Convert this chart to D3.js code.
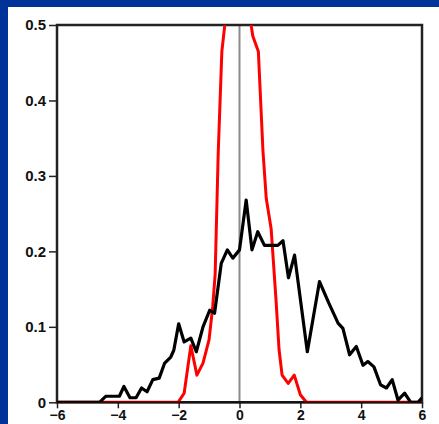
<!DOCTYPE html>
<html><head><meta charset="utf-8">
<script src="https://cdn.jsdelivr.net/npm/d3@7"></script>
<style>html,body{margin:0;padding:0;background:#003399;}svg{display:block;}</style>
</head><body>
<script>
// Data
const blackX = [-6,-4.6,-4.4,-3.95,-3.8,-3.6,-3.4,-3.22,-3.04,-2.85,-2.64,-2.46,-2.26,-2.16,-2.0,-1.82,-1.6,-1.42,-1.2,-0.98,-0.82,-0.6,-0.4,-0.22,0,0.22,0.41,0.6,0.82,1.04,1.26,1.43,1.61,1.81,2.23,2.63,2.93,3.24,3.40,3.62,3.84,4.06,4.22,4.42,4.64,4.83,5.02,5.21,5.43,5.63,5.87,6];
const blackY = [0,0,0.008,0.008,0.021,0.006,0.006,0.019,0.014,0.030,0.032,0.052,0.060,0.069,0.104,0.080,0.085,0.067,0.100,0.122,0.118,0.184,0.202,0.191,0.202,0.268,0.202,0.226,0.208,0.208,0.208,0.214,0.165,0.195,0.067,0.160,0.132,0.105,0.098,0.063,0.074,0.049,0.054,0.047,0.023,0.019,0.030,0.003,0.012,0.0,0.0,0.006];
const redX = [-6,-2.02,-1.82,-1.6,-1.4,-1.2,-1.0,-0.88,-0.8,-0.7,-0.58,-0.4,-0.2,0,0.2,0.36,0.44,0.62,0.77,0.88,1.04,1.2,1.3,1.4,1.6,1.8,2.0,2.2,6];
const redY = [0,0,0.012,0.075,0.036,0.052,0.083,0.127,0.17,0.33,0.465,0.53,0.8,0.9,0.8,0.505,0.485,0.465,0.334,0.27,0.23,0.136,0.07,0.036,0.025,0.036,0.010,0,0];
const xTicks = [-6,-4,-2,0,2,4,6];
const yTicks = [0,0.1,0.2,0.3,0.4,0.5];

const W = 439, H = 424;
const svg = d3.select("body").append("svg").attr("width", W).attr("height", H);
svg.append("rect").attr("width", W).attr("height", H).attr("fill", "#003399");
svg.append("rect").attr("x", 8).attr("y", 7).attr("width", W - 8).attr("height", H - 7).attr("fill", "#ffffff");

const x = d3.scaleLinear().domain([-6, 6]).range([57, 422]);
const y = d3.scaleLinear().domain([0, 0.5]).range([402.3, 25]);

svg.append("defs").append("clipPath").attr("id", "clip")
  .append("rect").attr("x", x(-6)).attr("y", y(0.5)).attr("width", x(6) - x(-6)).attr("height", y(0) - y(0.5));

const font = "'Liberation Sans', Arial, Helvetica, sans-serif";

// axes
const yAxis = svg.append("g").attr("transform", `translate(${x(-6)},0)`)
  .call(d3.axisLeft(y).tickValues(yTicks).tickSize(8).tickPadding(3).tickFormat(d => d === 0 ? "0" : d3.format(".1f")(d)));
const xAxis = svg.append("g").attr("transform", `translate(0,${y(0)})`)
  .call(d3.axisBottom(x).tickValues(xTicks).tickSize(6).tickPadding(2).tickFormat(d => d < 0 ? "\u2212" + Math.abs(d) : String(d)));
[yAxis, xAxis].forEach(g => {
  g.select(".domain").remove();
  g.selectAll(".tick line").attr("stroke", "#222").attr("stroke-width", 1.5);
  g.selectAll(".tick text").attr("fill", "#111").style("font-family", font).style("font-weight", "bold").style("font-size", "15px");
});
xAxis.selectAll(".tick text").style("font-size", "14px");

// zero vertical line
svg.append("line").attr("x1", x(0)).attr("x2", x(0)).attr("y1", y(0.5)).attr("y2", y(0))
  .attr("stroke", "#8a8a8a").attr("stroke-width", 2);

// frame
svg.append("rect").attr("x", x(-6)).attr("y", y(0.5)).attr("width", x(6) - x(-6)).attr("height", y(0) - y(0.5))
  .attr("fill", "none").attr("stroke", "#222").attr("stroke-width", 2.5);

const line = d3.line().x(d => x(d[0])).y(d => y(d[1]));
const plot = svg.append("g").attr("clip-path", "url(#clip)");

plot.append("path").datum(d3.zip(redX, redY)).attr("d", line)
  .attr("fill", "none").attr("stroke", "#ff0000").attr("stroke-width", 3).attr("stroke-linejoin", "round");

// darken bottom axis over red line
svg.append("line").attr("x1", x(-6)).attr("x2", x(6)).attr("y1", y(0)).attr("y2", y(0))
  .attr("stroke", "#000").attr("stroke-opacity", 0.5).attr("stroke-width", 2.5);

plot.append("path").datum(d3.zip(blackX, blackY)).attr("d", line)
  .attr("fill", "none").attr("stroke", "#000").attr("stroke-width", 3.2).attr("stroke-linejoin", "round");
</script>
</body></html>
